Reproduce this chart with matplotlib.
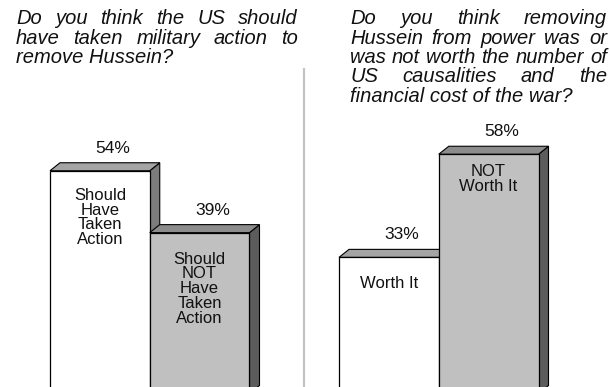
import matplotlib
matplotlib.use("Agg")
import matplotlib.pyplot as plt
from matplotlib.patches import Polygon
from matplotlib.lines import Line2D

plt.rcParams['font.family'] = ['Liberation Sans', 'DejaVu Sans']

# ---------------- data ----------------
left_title_lines = ["Do you think the US should",
                    "have taken military action to",
                    "remove Hussein?"]
right_title_lines = ["Do you think removing",
                     "Hussein from power was or",
                     "was not worth the number of",
                     "US causalities and the",
                     "financial cost of the war?"]
left_labels = ["Should\nHave\nTaken\nAction", "Should\nNOT\nHave\nTaken\nAction"]
left_values = [54, 39]
right_labels = ["Worth It", "NOT\nWorth It"]
right_values = [33, 58]

# ---------------- style ----------------
W, H = 610, 387
fig = plt.figure(figsize=(W / 100, H / 100), dpi=100)
fig.patch.set_facecolor('white')

BASE_PX = 393.5        # baseline position (px from top)
PX_PER_PCT = 4.125
YMAX = 80
AX_W_PX = 199.5
DX = 10 / (AX_W_PX / 2)   # depth in bar units
DY = 8 / PX_PER_PCT       # depth in percent units

front_colors = ['#ffffff', '#c0c0c0']
top_colors = ['#a4a4a4', '#8c8c8c']
side_colors = ['#7c7c7c', '#5c5c5c']


def make_ax(left_px):
    ax = fig.add_axes([left_px / W, (H - BASE_PX) / H, AX_W_PX / W, YMAX * PX_PER_PCT / H])
    ax.set_xlim(-0.5, 1.5)
    ax.set_ylim(0, YMAX)
    ax.axis('off')
    return ax


def draw_bars(ax, values, labels, inner_offsets_px):
    for i, (v, lab) in enumerate(zip(values, labels)):
        z = 2 + i * 3
        x0, x1 = i - 0.5, i + 0.5
        ax.add_patch(Polygon([(x1, 0), (x1, v), (x1 + DX, v + DY), (x1 + DX, DY)], closed=True,
                             fc=side_colors[i], ec='black', lw=0.8, zorder=z, clip_on=False))
        ax.add_patch(Polygon([(x0, v), (x1, v), (x1 + DX, v + DY), (x0 + DX, v + DY)], closed=True,
                             fc=top_colors[i], ec='black', lw=0.8, zorder=z, clip_on=False))
        ax.bar(i, v, width=1.0, color=front_colors[i], edgecolor='black', linewidth=0.9,
               zorder=z + 1, clip_on=False)
        ax.text(i + 0.13, v + DY + 10 / PX_PER_PCT, f"{v}%", ha='center', va='baseline',
                fontsize=12.5, color='#111111', zorder=20)
        ax.text(i, v - inner_offsets_px[i] / PX_PER_PCT, lab, ha='center', va='top',
                fontsize=12, linespacing=0.98, color='#111111', zorder=20)


ax_l = make_ax(50)
ax_r = make_ax(339)
draw_bars(ax_l, left_values, left_labels, [17, 19])
draw_bars(ax_r, right_values, right_labels, [19, 10])

# divider
fig.add_artist(Line2D([304 / W, 304 / W], [0, 1 - 69 / H], transform=fig.transFigure,
                      color='#c4c4c4', lw=1.6))


def justified_title(lines, x0, x1, y0, dy, size):
    renderer = fig.canvas.get_renderer()
    kw = dict(fontsize=size, style='italic', va='baseline', ha='left', color='#111111')
    for k, line in enumerate(lines):
        yb = 1 - (y0 + k * dy) / H
        words = line.split()
        if k == len(lines) - 1 or len(words) == 1:
            fig.text(x0 / W, yb, line, **kw)
            continue
        texts = [fig.text(0, yb, w, **kw) for w in words]
        widths = [t.get_window_extent(renderer).width for t in texts]
        gap = (x1 - x0 - sum(widths)) / (len(words) - 1)
        x = x0
        for t, w in zip(texts, widths):
            t.set_x(x / W)
            x += w + gap


justified_title(left_title_lines, 16, 298, 24, 19.5, 14.5)
justified_title(right_title_lines, 350, 607, 24, 19.5, 14.5)

fig.savefig('out.png', dpi=100, facecolor='white')
